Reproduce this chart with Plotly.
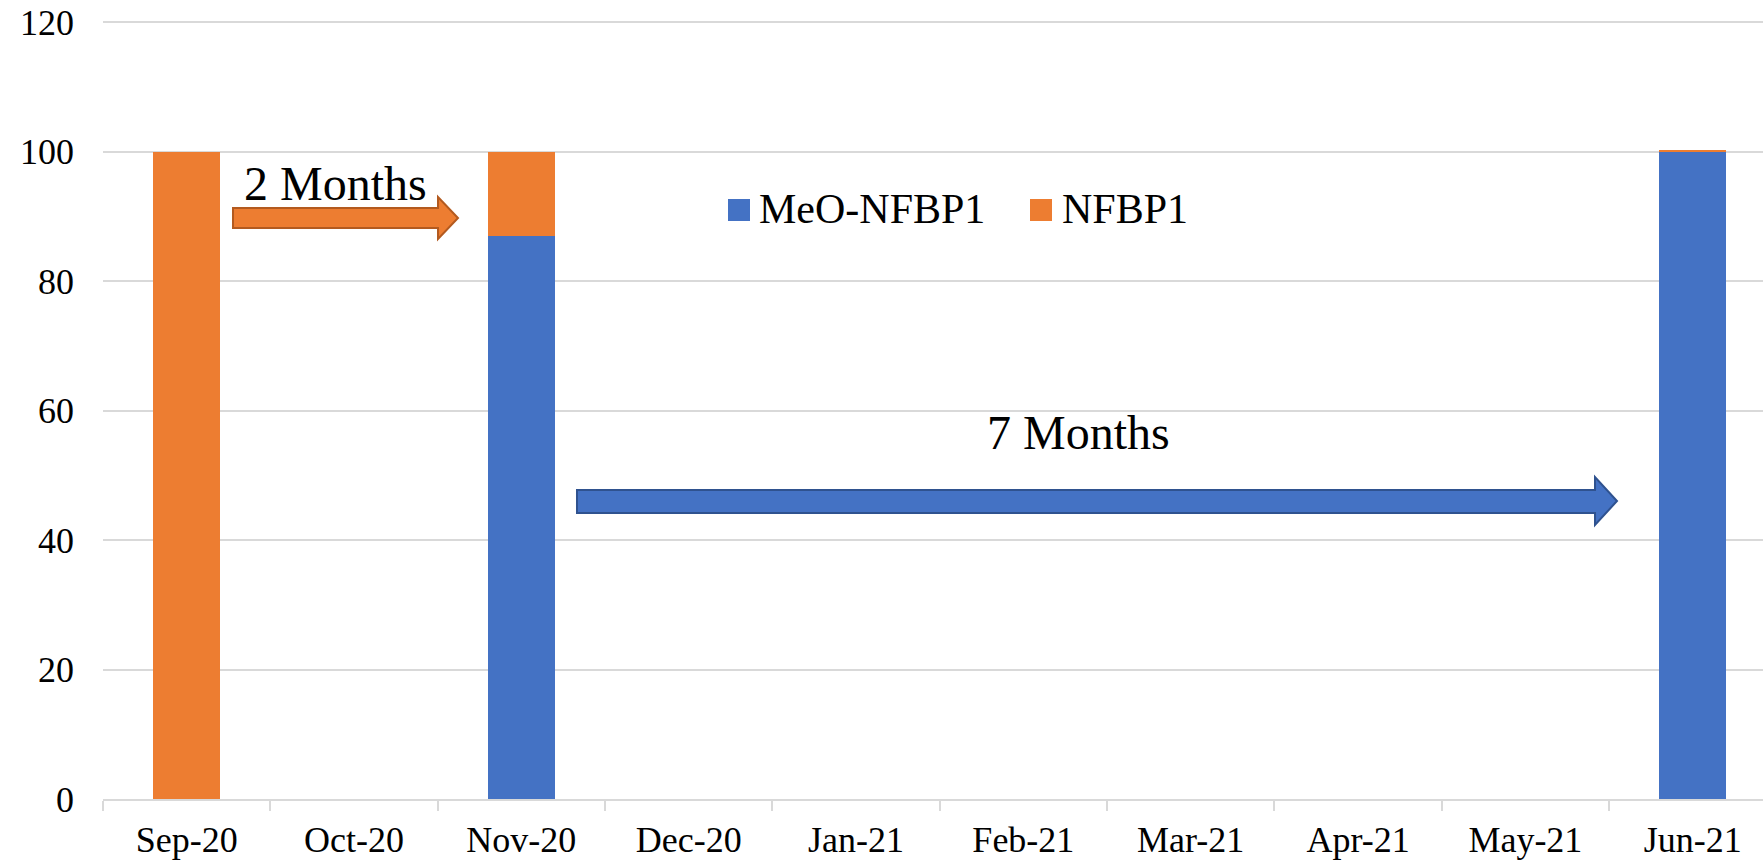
import plotly.graph_objects as go

months = ["Sep-20", "Oct-20", "Nov-20", "Dec-20", "Jan-21",
          "Feb-21", "Mar-21", "Apr-21", "May-21", "Jun-21"]
meo_nfbp1 = [0, None, 87, None, None, None, None, None, None, 100]
nfbp1 = [100, None, 13, None, None, None, None, None, None, 0.3]

BLUE = "#4472C4"
ORANGE = "#ED7D31"
FONT = "Liberation Serif"

W, H = 1763, 865
L, R, T, B = 103, 0, 20, 66
PW, PH = W - L - R, H - T - B


def px(x):
    return (x - L) / PW


def py(y):
    return (H - B - y) / PH


def arrow_path(x0, x1, x2, yb0, yb1, yh0, yh1, ym):
    # body from x0 to x1, head from x1 to tip x2 (pixels -> paper)
    pts = [(x0, yb0), (x1, yb0), (x1, yh0), (x2, ym), (x1, yh1), (x1, yb1), (x0, yb1)]
    return "M " + " L ".join(f"{px(a):.5f},{py(b):.5f}" for a, b in pts) + " Z"


fig = go.Figure()
fig.add_trace(go.Bar(x=months, y=meo_nfbp1, name="MeO-NFBP1", marker_color=BLUE,
                     marker_line_width=0, width=0.4))
fig.add_trace(go.Bar(x=months, y=nfbp1, name="NFBP1", marker_color=ORANGE,
                     marker_line_width=0, width=0.4))

shapes = [
    dict(type="path", xref="paper", yref="paper",
         path=arrow_path(233, 438, 458, 208, 228, 197, 239, 218),
         fillcolor=ORANGE, line=dict(color="#B35A1F", width=2)),
    dict(type="path", xref="paper", yref="paper",
         path=arrow_path(577, 1595, 1617, 490, 513, 477, 525, 501),
         fillcolor=BLUE, line=dict(color="#2F528F", width=2)),
    # legend swatches
    dict(type="rect", xref="paper", yref="paper", x0=px(728), x1=px(750),
         y0=py(221), y1=py(199), fillcolor=BLUE, line_width=0),
    dict(type="rect", xref="paper", yref="paper", x0=px(1030), x1=px(1052),
         y0=py(221), y1=py(199), fillcolor=ORANGE, line_width=0),
]


def label(text, x, y, size, xanchor="center"):
    return dict(text=text, x=px(x), y=py(y), xref="paper", yref="paper",
                xanchor=xanchor, yanchor="middle", showarrow=False,
                font=dict(family=FONT, size=size, color="black"))


annotations = [
    label("2 Months", 335, 183, 48),
    label("7 Months", 1078, 432, 48),
    label("MeO-NFBP1", 757, 209, 42, "left"),
    label("NFBP1", 1060, 209, 42, "left"),
]

fig.update_layout(
    width=W, height=H,
    barmode="stack",
    showlegend=False,
    plot_bgcolor="white", paper_bgcolor="white",
    margin=dict(l=L, r=R, t=T, b=B),
    font=dict(family=FONT, size=36, color="black"),
    shapes=shapes,
    annotations=annotations,
)
fig.update_xaxes(
    type="category", range=[-0.5, 9.42],
    showline=True, linecolor="#D9D9D9", linewidth=2,
    ticks="outside", tickson="boundaries", ticklen=10, tickcolor="#D9D9D9", tickwidth=2,
    showgrid=False, tickfont=dict(size=36), ticklabelstandoff=8,
)
fig.update_yaxes(
    range=[0, 120.31], dtick=20,
    showgrid=True, gridcolor="#D9D9D9", gridwidth=2,
    zeroline=False, showline=False, ticks="",
    tickfont=dict(size=36), ticklabelstandoff=28,
)

# drop the default 8px page margin so the figure fills the window
fig.write_html("out.html", config={"displayModeBar": False},
               post_script="document.body.style.margin='0';")
